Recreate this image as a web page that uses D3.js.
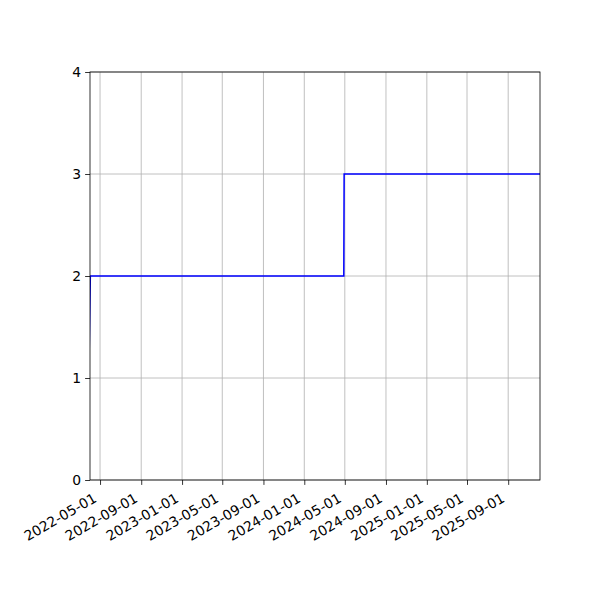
<!DOCTYPE html>
<html>
<head>
<meta charset="utf-8">
<script src="https://cdn.jsdelivr.net/npm/d3@7"></script>
<style>
  body { margin: 0; background: #fff; }
  svg { display: block; }
</style>
</head>
<body>
<div id="chart"></div>
<script>
// data: step series (date, value)
const dates = ["2022-03-24", "2022-04-02", "2024-04-28", "2024-04-29", "2025-12-05"];
const values = [0, 2, 2, 3, 3];
const xTicks = ["2022-05-01", "2022-09-01", "2023-01-01", "2023-05-01", "2023-09-01",
    "2024-01-01", "2024-05-01", "2024-09-01", "2025-01-01", "2025-05-01", "2025-09-01"];
const yTicks = [0, 1, 2, 3, 4];

const W = 600, H = 600;
const margin = { left: 90, right: 60, top: 72, bottom: 120 };
const iw = W - margin.left - margin.right;
const ih = H - margin.top - margin.bottom;
const FONT = "DejaVu Sans";

const parse = d3.utcParse("%Y-%m-%d");
const pts = dates.map((d, i) => ({ date: parse(d), value: values[i] }));

const x = d3.scaleUtc()
    .domain([parse("2022-04-01"), parse("2025-12-05")])
    .range([0, iw]);
const y = d3.scaleLinear().domain([0, 4]).range([ih, 0]);

const svg = d3.select("#chart").append("svg")
    .attr("width", W).attr("height", H);

svg.append("defs").append("clipPath").attr("id", "clip")
    .append("rect").attr("width", iw).attr("height", ih);

const g = svg.append("g").attr("transform", `translate(${margin.left},${margin.top})`);

// grid
g.append("g").selectAll("line").data(xTicks).enter().append("line")
    .attr("x1", d => x(parse(d))).attr("x2", d => x(parse(d)))
    .attr("y1", 0).attr("y2", ih)
    .attr("stroke", "#b0b0b0").attr("stroke-width", 0.8);
g.append("g").selectAll("line").data(yTicks).enter().append("line")
    .attr("x1", 0).attr("x2", iw)
    .attr("y1", d => y(d)).attr("y2", d => y(d))
    .attr("stroke", "#b0b0b0").attr("stroke-width", 0.8);

// line
const line = d3.line().x(d => x(d.date)).y(d => y(d.value));
g.append("path").datum(pts)
    .attr("clip-path", "url(#clip)")
    .attr("d", line)
    .attr("fill", "none")
    .attr("stroke", "#0000ff")
    .attr("stroke-width", 1.5);

// axes
const xAxis = g.append("g").attr("transform", `translate(0,${ih})`)
    .call(d3.axisBottom(x).tickValues(xTicks.map(parse))
        .tickFormat(d3.utcFormat("%Y-%m-%d")).tickSize(4.9).tickPadding(3));
xAxis.attr("font-family", FONT).attr("font-size", 13.9);
xAxis.selectAll("text")
    .attr("fill", "#000")
    .attr("text-anchor", "end")
    .attr("dy", 0)
    .attr("x", -3).attr("y", 21)
    .attr("transform", "rotate(-30, -3, 21)");

const yAxis = g.append("g")
    .call(d3.axisLeft(y).tickValues(yTicks).tickFormat(d3.format("d")).tickSize(4.9).tickPadding(4));
yAxis.attr("font-family", FONT).attr("font-size", 13.9);
yAxis.selectAll("text").attr("fill", "#000");

svg.selectAll(".domain").remove();
svg.selectAll(".tick line").attr("stroke", "#000").attr("stroke-width", 0.8);

// spines
g.append("rect").attr("width", iw).attr("height", ih)
    .attr("fill", "none").attr("stroke", "#000").attr("stroke-width", 0.8);
</script>
</body>
</html>
